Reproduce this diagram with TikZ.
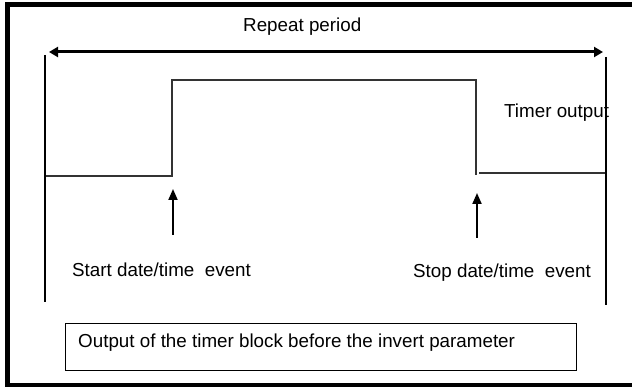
\documentclass[tikz,border=0pt]{standalone}
\usepackage{fontspec}
\setmainfont{Liberation Sans}
\usetikzlibrary{arrows.meta}

\begin{document}
\begin{tikzpicture}[x=1pt, y=-1pt,
	label/.style={inner sep=0pt, anchor=base west, font=\fontsize{18.8}{22}\selectfont},
	signal/.style={line width=1.3pt, black!80},
	mark line/.style={line width=1.2pt},
	event/.style={line width=2pt, -{Triangle[length=11pt, width=9pt]}},
	period/.style={line width=3pt, {Triangle[length=9pt, width=10pt]}-{Triangle[length=9pt, width=10pt]}}]
	\useasboundingbox (0,0) rectangle (632,387);
	% frame
	\draw[line width=5pt] (640,4.5) -- (7.5,4.5) -- (7.5,385.5) -- (640,385.5);
	% repeat period
	\coordinate (pl) at (49,52);
	\coordinate (pr) at (603,52);
	\draw[period] (pl) -- (pr);
	\node[label] (rep) at (243,32) {Repeat period};
	% signal
	\coordinate (s0) at (45,176);
	\coordinate (s1) at (172,176);
	\coordinate (s2) at (172,80);
	\coordinate (s3) at (476,80);
	\coordinate (s4) at (476,175);
	\coordinate (s5) at (479,173);
	\coordinate (s6) at (606,173);
	\draw[signal] (s0) -- (s1) -- (s2) -- (s3) -- (s4);
	\draw[signal] (s5) -- (s6);
	% labels
	\node[label] (out) at (504,118) {Timer output};
	\node[label] (start) at (72,277) {Start date/time\ \ event};
	\node[label] (stop) at (413,278) {Stop date/time\ \ event};
	% period limits
	\coordinate (lt) at (45,55);
	\coordinate (lb) at (45,302);
	\coordinate (rt) at (606,57);
	\coordinate (rb) at (606,305);
	\draw[mark line] (lt) -- (lb);
	\draw[mark line] (rt) -- (rb);
	% events
	\coordinate (ea) at (173,235);
	\coordinate (eb) at (173,189);
	\coordinate (ec) at (477,238);
	\coordinate (ed) at (477,193);
	\draw[event] (ea) -- (eb);
	\draw[event] (ec) -- (ed);
	% caption box
	\node[draw, line width=1pt, minimum width=511pt, minimum height=46pt, inner sep=0pt] (box) at (321.3,347) {};
	\node[label] (cap) at (78,348) {Output of the timer block before the invert parameter};
\end{tikzpicture}
\end{document}
